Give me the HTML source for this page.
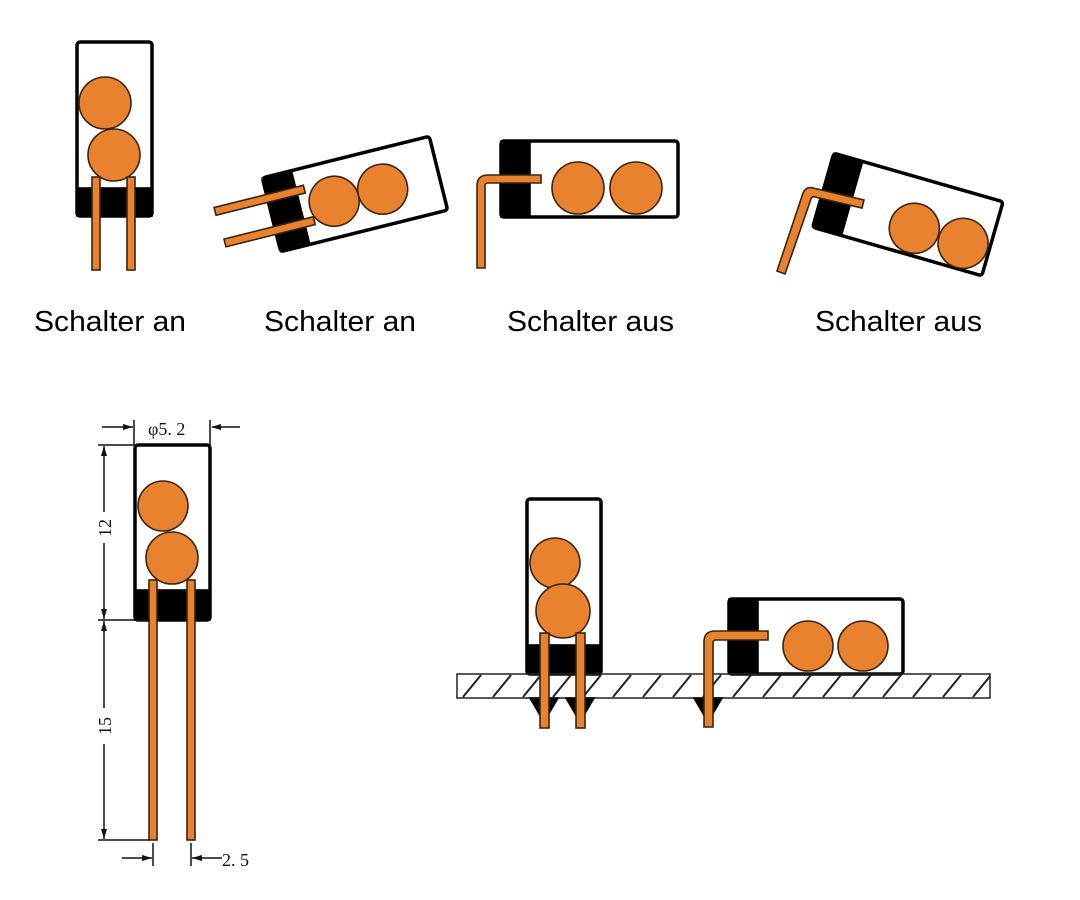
<!DOCTYPE html>
<html><head><meta charset="utf-8"><style>
html,body{margin:0;padding:0;background:#fff;}
svg{display:block;}
</style></head><body>
<svg width="1080" height="900" viewBox="0 0 1080 900" xmlns="http://www.w3.org/2000/svg">
<defs>
<pattern id="hatch" patternUnits="userSpaceOnUse" width="30" height="24" x="457" y="674">
<line x1="6" y1="23" x2="24" y2="1" stroke="#222" stroke-width="2"/>
</pattern>
</defs>
<rect width="1080" height="900" fill="#fff"/>
<g stroke="#3a2412" stroke-width="1.6" fill="#e8822e">
<!-- Fig1 -->
<rect x="77" y="42" width="75" height="174" rx="3" fill="#fff" stroke="#000" stroke-width="3.5"/>
<rect x="77" y="188" width="75" height="28" fill="#000" stroke="#000"/>
<circle cx="105" cy="103" r="26"/>
<circle cx="114" cy="155" r="26"/>
<rect x="92" y="177" width="8" height="93"/>
<rect x="127" y="177" width="8" height="93"/>

<!-- Fig2 -->
<g transform="translate(355,194) rotate(-14)">
<rect x="-86" y="-38" width="172" height="76" rx="3" fill="#fff" stroke="#000" stroke-width="3.5"/>
<rect x="-86" y="-38" width="30" height="76" fill="#000" stroke="#000"/>
<circle cx="-22" cy="2" r="25"/>
<circle cx="28" cy="2" r="25"/>
<rect x="-140" y="-21" width="92" height="8"/>
<rect x="-138" y="12" width="92" height="8"/>
</g>

<!-- Fig3 -->
<rect x="501" y="141" width="177" height="76" rx="3" fill="#fff" stroke="#000" stroke-width="3.5"/>
<rect x="501" y="141" width="29" height="76" fill="#000" stroke="#000"/>
<circle cx="578" cy="188" r="26"/>
<circle cx="636" cy="188" r="26"/>
<path d="M477 268 L477 186 Q477 175 488 175 L541 175 L541 183 L488 183 Q485 183 485 186 L485 268 Z"/>

<!-- Fig4 -->
<g transform="translate(908,214) rotate(16)">
<rect x="-88" y="-38" width="176" height="77" rx="3" fill="#fff" stroke="#000" stroke-width="3.5"/>
<rect x="-88" y="-38" width="30" height="77" fill="#000" stroke="#000"/>
<circle cx="10" cy="12" r="25"/>
<circle cx="61" cy="13" r="25"/>
</g>
<path d="M777 271 L803 193 Q806 186 813 188 L864 200 L862 208 L815 197 Q812 196 811 199 L785 274 Z"/>

<!-- Bottom-left -->
<rect x="135" y="445" width="75" height="175" rx="3" fill="#fff" stroke="#000" stroke-width="3.5"/>
<rect x="135" y="590" width="75" height="30" fill="#000" stroke="#000"/>
<circle cx="163" cy="506" r="25"/>
<circle cx="172" cy="558" r="26"/>
<rect x="149" y="580" width="8" height="260"/>
<rect x="187" y="580" width="8" height="260"/>

<!-- Bottom-right PCB -->
<rect x="527" y="499" width="74" height="175" rx="3" fill="#fff" stroke="#000" stroke-width="3.5"/>
<rect x="527" y="645" width="74" height="29" fill="#000" stroke="#000"/>
<circle cx="555" cy="563" r="25"/>
<circle cx="563" cy="611" r="27"/>
<rect x="729" y="599" width="174" height="75" rx="3" fill="#fff" stroke="#000" stroke-width="3.5"/>
<rect x="729" y="599" width="29" height="75" fill="#000" stroke="#000"/>
<circle cx="808" cy="646" r="25"/>
<circle cx="863" cy="646" r="25"/>
<rect x="457" y="674" width="533" height="24" fill="url(#hatch)" stroke="#222" stroke-width="1.5"/>
<path d="M530 698 L558 698 L544 722 Z" fill="#000" stroke="#000"/>
<path d="M566 698 L594 698 L580 722 Z" fill="#000" stroke="#000"/>
<path d="M694 698 L722 698 L708 722 Z" fill="#000" stroke="#000"/>
<rect x="540" y="633" width="9" height="95"/>
<rect x="576" y="633" width="9" height="95"/>
<path d="M704 727 L704 642 Q704 631 715 631 L768 631 L768 640 L716 640 Q713 640 713 643 L713 727 Z"/>
</g>

<!-- dimensions -->
<g stroke="#111" stroke-width="1.5" fill="none">
<line x1="134" y1="420" x2="134" y2="445"/>
<line x1="210" y1="420" x2="210" y2="445"/>
<line x1="102" y1="427" x2="133" y2="427"/>
<line x1="212" y1="427" x2="240" y2="427"/>
<line x1="98" y1="445" x2="134" y2="445"/>
<line x1="98" y1="620" x2="150" y2="620"/>
<line x1="98" y1="840" x2="150" y2="840"/>
<line x1="104" y1="446" x2="104" y2="512"/>
<line x1="104" y1="543" x2="104" y2="619"/>
<line x1="104" y1="621" x2="104" y2="708"/>
<line x1="104" y1="744" x2="104" y2="839"/>
<line x1="153" y1="843" x2="153" y2="866"/>
<line x1="191" y1="843" x2="191" y2="866"/>
<line x1="122" y1="858" x2="152" y2="858"/>
<line x1="192" y1="858" x2="222" y2="858"/>
</g>
<g fill="#111">
<path d="M133 427 L123 424 L123 430 Z"/>
<path d="M211 427 L221 424 L221 430 Z"/>
<path d="M104 446 L101 456 L107 456 Z"/>
<path d="M104 619 L101 609 L107 609 Z"/>
<path d="M104 621 L101 631 L107 631 Z"/>
<path d="M104 839 L101 829 L107 829 Z"/>
<path d="M152 858 L142 855 L142 861 Z"/>
<path d="M192 858 L202 855 L202 861 Z"/>
</g>
<g font-family="'Liberation Serif', serif" font-size="18" fill="#111">
<text x="148" y="435">φ5. 2</text>
<text x="222" y="866">2. 5</text>
<text transform="translate(111,528) rotate(-90)" text-anchor="middle">12</text>
<text transform="translate(111,726) rotate(-90)" text-anchor="middle">15</text>
</g>

<g font-family="'Liberation Sans', sans-serif" font-size="29" fill="#000">
<text x="34" y="331" textLength="152" lengthAdjust="spacingAndGlyphs">Schalter an</text>
<text x="264" y="331" textLength="152" lengthAdjust="spacingAndGlyphs">Schalter an</text>
<text x="507" y="331" textLength="167" lengthAdjust="spacingAndGlyphs">Schalter aus</text>
<text x="815" y="331" textLength="167" lengthAdjust="spacingAndGlyphs">Schalter aus</text>
</g>
</svg>
</body></html>
